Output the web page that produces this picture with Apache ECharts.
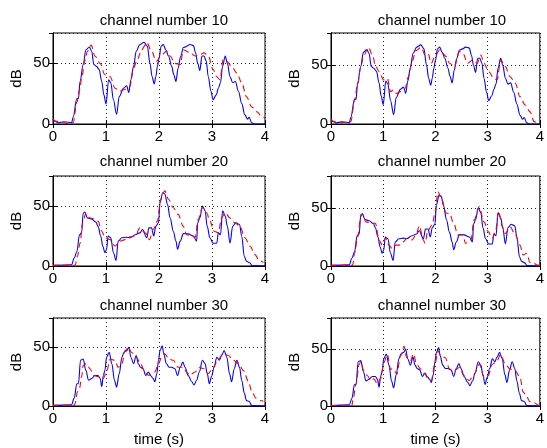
<!DOCTYPE html>
<html>
<head>
<meta charset="utf-8">
<script src="https://cdn.jsdelivr.net/npm/echarts@6/dist/echarts.min.js"></script>
<style>html,body{margin:0;padding:0;background:#fff}#c{width:547px;height:448px}</style>
</head>
<body>
<div id="c"></div>
<script>
var xTicks = [0, 1, 2, 3, 4];
var yTicks = [0, 50];
var titles = ['channel number 10', 'channel number 10', 'channel number 20', 'channel number 20', 'channel number 30', 'channel number 30'];

var blue10 = [[0,4],[0.05,2],[0.1,1],[0.2,1.8],[0.3,1.5],[0.35,1],[0.38,5.5],[0.45,21],[0.48,21],[0.51,35],[0.57,49],[0.62,61],[0.685,63.5],[0.73,60],[0.77,49],[0.82,47.5],[0.87,45],[0.92,35],[0.96,24],[1.0,16.5],[1.05,36.5],[1.09,34],[1.14,20],[1.2,8],[1.25,22.6],[1.33,29.5],[1.39,31.5],[1.43,26],[1.47,36.5],[1.52,47.5],[1.57,60],[1.64,65.5],[1.72,67.4],[1.78,64],[1.83,50],[1.87,39],[1.91,33],[1.94,39],[1.97,47.5],[2.0,54],[2.04,64],[2.08,65.5],[2.13,61],[2.18,56],[2.24,47.5],[2.28,40.6],[2.32,35],[2.36,46],[2.41,56],[2.46,63],[2.52,64],[2.58,65.5],[2.65,64.6],[2.69,58.6],[2.73,50],[2.77,44],[2.81,56],[2.85,56],[2.89,52],[2.93,39],[2.98,27],[3.02,20],[3.08,24],[3.12,29.5],[3.16,34],[3.2,47.5],[3.25,56],[3.29,50],[3.34,39],[3.39,34],[3.44,35],[3.5,27],[3.56,17],[3.62,7.5],[3.67,4],[3.7,5.5],[3.75,1],[3.8,0],[4,0]];
var red10L = [[0,4],[0.05,2.5],[0.15,1],[0.3,0.5],[0.38,1],[0.45,18],[0.5,28],[0.55,40],[0.6,52],[0.65,60],[0.72,65],[0.79,56],[0.89,50],[0.98,40.6],[1.08,39],[1.17,29.5],[1.26,27],[1.36,28.7],[1.45,31],[1.52,46],[1.59,53],[1.67,61],[1.77,67],[1.86,60],[1.95,51.6],[2.05,57],[2.14,60],[2.21,56],[2.3,50],[2.4,49],[2.46,61],[2.58,59],[2.68,56],[2.77,57],[2.85,58.6],[2.93,56],[3.02,45],[3.09,39],[3.15,36.5],[3.21,53],[3.28,51.6],[3.37,47.5],[3.47,42],[3.56,34],[3.65,22.6],[3.75,14],[3.85,10],[3.94,6],[4.0,4.7]];
var red10R = [[0,4],[0.05,2],[0.15,1],[0.3,1.5],[0.38,2],[0.45,20],[0.51,34],[0.57,48],[0.62,58],[0.72,65.3],[0.79,58.8],[0.86,48.9],[0.92,44.6],[1.01,37.5],[1.08,38.9],[1.14,27.6],[1.2,29],[1.26,26],[1.33,27.6],[1.42,30.4],[1.48,40.3],[1.55,53],[1.63,62.5],[1.73,65.3],[1.8,58.8],[1.86,60],[1.92,51.7],[1.99,57.4],[2.08,63],[2.14,60],[2.21,57.4],[2.27,51.7],[2.36,48.9],[2.46,61.6],[2.52,60.8],[2.62,51.7],[2.71,54.5],[2.8,51.7],[2.87,58.8],[2.93,51.7],[3.02,44.6],[3.12,39],[3.18,37.5],[3.25,54.5],[3.34,48.9],[3.43,40.3],[3.53,34.7],[3.62,23.3],[3.72,16.2],[3.81,10.5],[3.89,2],[3.97,0.5],[4,0.3]];

var blue20 = [[0,0.5],[0.35,1],[0.4,6.7],[0.45,12],[0.5,26],[0.54,27.6],[0.57,44],[0.6,45],[0.65,40],[0.73,39],[0.81,36.6],[0.85,33],[0.9,25],[0.94,16.5],[0.98,11],[1.01,13.7],[1.04,25],[1.09,23.5],[1.14,11],[1.19,4.7],[1.23,20.7],[1.3,23.5],[1.39,24],[1.45,23.5],[1.55,26],[1.64,27.6],[1.69,30.4],[1.77,23.5],[1.81,31.8],[1.86,31.8],[1.9,25],[1.94,33],[1.99,36],[2.02,52.8],[2.07,61],[2.11,60],[2.16,51.4],[2.21,40],[2.27,29],[2.32,20.7],[2.35,14],[2.4,20.7],[2.46,27],[2.55,26.8],[2.65,25],[2.71,20.7],[2.73,36],[2.77,40],[2.82,50],[2.87,46],[2.91,33],[2.96,23.5],[3.02,19],[3.09,19],[3.12,27.6],[3.16,26],[3.2,46],[3.25,41.6],[3.29,33],[3.34,19],[3.39,33],[3.45,36],[3.52,34.6],[3.56,25],[3.61,8],[3.65,4],[3.72,2.5],[3.75,0.3],[4,0]];
var red20L = [[0,0.5],[0.4,0.5],[0.42,1],[0.46,8],[0.51,19],[0.56,36],[0.62,44],[0.7,40],[0.79,39],[0.85,37.4],[0.92,29],[0.98,23.5],[1.08,22],[1.17,16.5],[1.26,20.7],[1.36,22],[1.45,24.3],[1.55,25],[1.64,31.8],[1.74,27.6],[1.82,22],[1.89,30.4],[1.97,37.4],[2.03,55.6],[2.11,62.6],[2.18,55.6],[2.27,48.6],[2.36,43],[2.46,33],[2.52,26],[2.62,25],[2.68,23.5],[2.74,39],[2.82,48.6],[2.9,44.4],[2.96,37.4],[3.04,29],[3.12,27.6],[3.18,40],[3.25,44.4],[3.34,40],[3.43,36],[3.53,33],[3.62,23.5],[3.72,16.5],[3.81,9.5],[3.89,4.7],[3.97,3]];
var red20R = [[0,0.5],[0.4,0.5],[0.42,1.7],[0.45,11],[0.51,25],[0.57,42.5],[0.6,45],[0.67,38],[0.76,36.8],[0.85,36.8],[0.92,22.4],[0.98,18],[1.04,23.9],[1.11,18],[1.17,15.2],[1.23,18],[1.31,18],[1.39,21],[1.45,23.9],[1.55,22.4],[1.63,26.7],[1.69,34.5],[1.77,22.4],[1.8,19.5],[1.86,31],[1.94,35.3],[1.99,45.4],[2.05,64],[2.11,58.3],[2.21,45.4],[2.27,45.4],[2.35,36.8],[2.43,26.7],[2.52,26.7],[2.58,19.5],[2.68,22.4],[2.74,39.7],[2.84,51],[2.93,38],[3.01,29.6],[3.09,23.9],[3.15,29.6],[3.21,46.8],[3.28,33.9],[3.34,28],[3.43,33.9],[3.53,26.7],[3.62,18],[3.68,9.5],[3.75,11],[3.81,3],[3.89,2.3],[3.94,1],[4,0.5]];

var blue30 = [[0,0.5],[0.35,1],[0.4,6.7],[0.45,19],[0.48,19],[0.52,39],[0.57,40],[0.62,30.4],[0.67,22],[0.73,23.5],[0.79,26],[0.85,26],[0.89,23.5],[0.92,16.5],[0.95,26],[0.98,30.4],[1.01,41.6],[1.06,45.8],[1.11,36],[1.16,22],[1.2,16],[1.25,27.6],[1.3,41.6],[1.34,45.8],[1.39,47.2],[1.43,50],[1.47,41.6],[1.52,36],[1.57,43],[1.61,36],[1.65,33],[1.7,31.8],[1.75,26],[1.8,29],[1.84,26],[1.89,23.5],[1.92,20.7],[1.96,27.6],[1.99,39],[2.02,47.2],[2.06,51.4],[2.09,44.4],[2.14,36],[2.19,33],[2.24,33],[2.3,31.8],[2.35,26],[2.4,33],[2.45,37.4],[2.49,33],[2.55,26],[2.62,20.7],[2.66,17.9],[2.71,22],[2.76,29],[2.82,39],[2.87,36],[2.91,27.6],[2.95,19],[2.99,25],[3.04,33],[3.09,41.6],[3.14,39],[3.18,43],[3.23,47.2],[3.28,41.6],[3.33,27.6],[3.37,20.7],[3.42,31.8],[3.47,39],[3.52,33],[3.56,22],[3.61,11],[3.65,4.7],[3.7,4],[3.75,0.3],[4,0]];
var red30L = [[0,0.5],[0.4,0.5],[0.42,2.5],[0.46,12],[0.5,15],[0.54,25],[0.57,34.6],[0.63,36],[0.7,31.8],[0.76,26],[0.85,25],[0.95,23.5],[1.01,29],[1.08,40],[1.17,39],[1.23,33],[1.3,36],[1.36,47.2],[1.42,50],[1.48,45.8],[1.57,41.6],[1.64,37.4],[1.72,30.4],[1.8,26],[1.86,27.6],[1.92,29],[1.99,36],[2.05,41.6],[2.11,44.4],[2.19,40],[2.27,39],[2.36,33],[2.46,33],[2.52,29],[2.58,26],[2.68,29],[2.76,33],[2.84,31.8],[2.93,27.6],[3.02,33],[3.12,40],[3.21,44.4],[3.31,43],[3.4,39],[3.5,36],[3.59,30.4],[3.69,20.7],[3.75,12.3],[3.83,6.7],[3.91,4.7],[3.97,4]];
var red30R = [[0,0.5],[0.4,0.5],[0.42,5],[0.48,19.5],[0.54,36.8],[0.57,39],[0.63,31],[0.7,26.7],[0.76,22.4],[0.82,23.9],[0.89,19.5],[0.95,23.9],[1.01,38],[1.08,45.4],[1.14,32.5],[1.2,32.5],[1.26,28],[1.33,44],[1.4,52.6],[1.45,42.5],[1.52,39.7],[1.58,46],[1.64,36.8],[1.72,32.5],[1.8,28],[1.86,23.9],[1.92,22.4],[1.99,36.8],[2.05,48.3],[2.11,44],[2.19,42.5],[2.27,32.5],[2.36,31],[2.46,33.9],[2.55,26.7],[2.65,22.4],[2.74,28],[2.84,36.8],[2.93,25.3],[3.01,26.7],[3.09,36.8],[3.18,39.7],[3.25,45.4],[3.34,36.8],[3.43,32.5],[3.53,31],[3.62,25.3],[3.68,12.4],[3.75,8],[3.81,3.7],[3.89,2.9],[3.97,0.9],[4,0.5]];

var blueSets = [blue10, blue10, blue20, blue20, blue30, blue30];
var redSets = [red10L, red10R, red20L, red20R, red30L, red30R];

var FONT = '"Liberation Sans", Arial, Helvetica, sans-serif';
var lefts = [53, 331];
var tops = [33, 176, 318];
var heights = [91, 90, 90];
var yMaxes = [75, 77.5];
var titleTops = [8, 149, 293];

var grid = [], xAxis = [], yAxis = [], series = [], title = [];
for (var i = 0; i < 6; i++) {
  var r = Math.floor(i / 2), c = i % 2;
  grid.push({left: lefts[c], top: tops[r], width: 212, height: heights[r], show: true, borderColor: '#000', borderWidth: 1, backgroundColor: '#fff'});
  title.push({text: titles[i], left: lefts[c] + 106, top: titleTops[r], textAlign: 'center',
    textStyle: {fontFamily: FONT, fontSize: 15, fontWeight: 'normal', color: '#000'}});
  var isBottom = r === 2;
  xAxis.push({type: 'value', gridIndex: i, min: xTicks[0], max: xTicks[xTicks.length - 1], interval: 1, position: 'bottom',
    name: isBottom ? 'time (s)' : '', nameLocation: 'middle', nameGap: 26,
    nameTextStyle: {fontFamily: FONT, fontSize: 15, color: '#000'},
    axisLine: {show: true, lineStyle: {color: '#000', width: 1}},
    axisTick: {show: true, inside: true, length: 4, lineStyle: {color: '#000'}},
    axisLabel: {show: true, margin: 5, fontFamily: FONT, fontSize: 15, color: '#000'},
    splitLine: {show: true, lineStyle: {color: '#222', width: 1, type: [1, 3]}}});
  xAxis.push({type: 'value', gridIndex: i, min: 0, max: 4, interval: 1, position: 'top',
    axisLine: {show: true, lineStyle: {color: '#000'}},
    axisTick: {show: true, inside: true, length: 4, lineStyle: {color: '#000'}},
    axisLabel: {show: false}, splitLine: {show: false}});
  yAxis.push({type: 'value', gridIndex: i, min: yTicks[0], max: yMaxes[c], interval: 50, position: 'left',
    name: 'dB', nameLocation: 'middle', nameGap: 29, nameRotate: 90,
    nameTextStyle: {fontFamily: FONT, fontSize: 15, color: '#000'},
    axisLine: {show: true, lineStyle: {color: '#000', width: 1}},
    axisTick: {show: true, inside: true, length: 4, lineStyle: {color: '#000'}},
    axisLabel: {show: true, margin: 3, fontFamily: FONT, fontSize: 15, color: '#000', showMaxLabel: false,
      formatter: function (v) { return yTicks.indexOf(v) >= 0 ? String(v) : ''; }},
    splitLine: {show: true, lineStyle: {color: '#222', width: 1, type: [1, 3]}}});
  yAxis.push({type: 'value', gridIndex: i, min: 0, max: yMaxes[c], interval: 50, position: 'right',
    axisLine: {show: true, lineStyle: {color: '#000'}},
    axisTick: {show: true, inside: true, length: 4, lineStyle: {color: '#000'}},
    axisLabel: {show: false}, splitLine: {show: false}});
  series.push({type: 'line', xAxisIndex: 2 * i, yAxisIndex: 2 * i, data: blueSets[i], showSymbol: false, symbol: 'none',
    smooth: 0.35, smoothMonotone: 'x',
    lineStyle: {color: '#0000ff', width: 1.1}, animation: false, z: 2});
  series.push({type: 'line', xAxisIndex: 2 * i, yAxisIndex: 2 * i, data: redSets[i], showSymbol: false, symbol: 'none',
    smooth: 0.35, smoothMonotone: 'x',
    lineStyle: {color: '#ff0000', width: 1.1, type: [6, 4]}, animation: false, z: 3});
}

var chart = echarts.init(document.getElementById('c'), null, {renderer: 'canvas'});
chart.setOption({animation: false, backgroundColor: '#fff', title: title, grid: grid, xAxis: xAxis, yAxis: yAxis, series: series});
</script>
</body>
</html>
